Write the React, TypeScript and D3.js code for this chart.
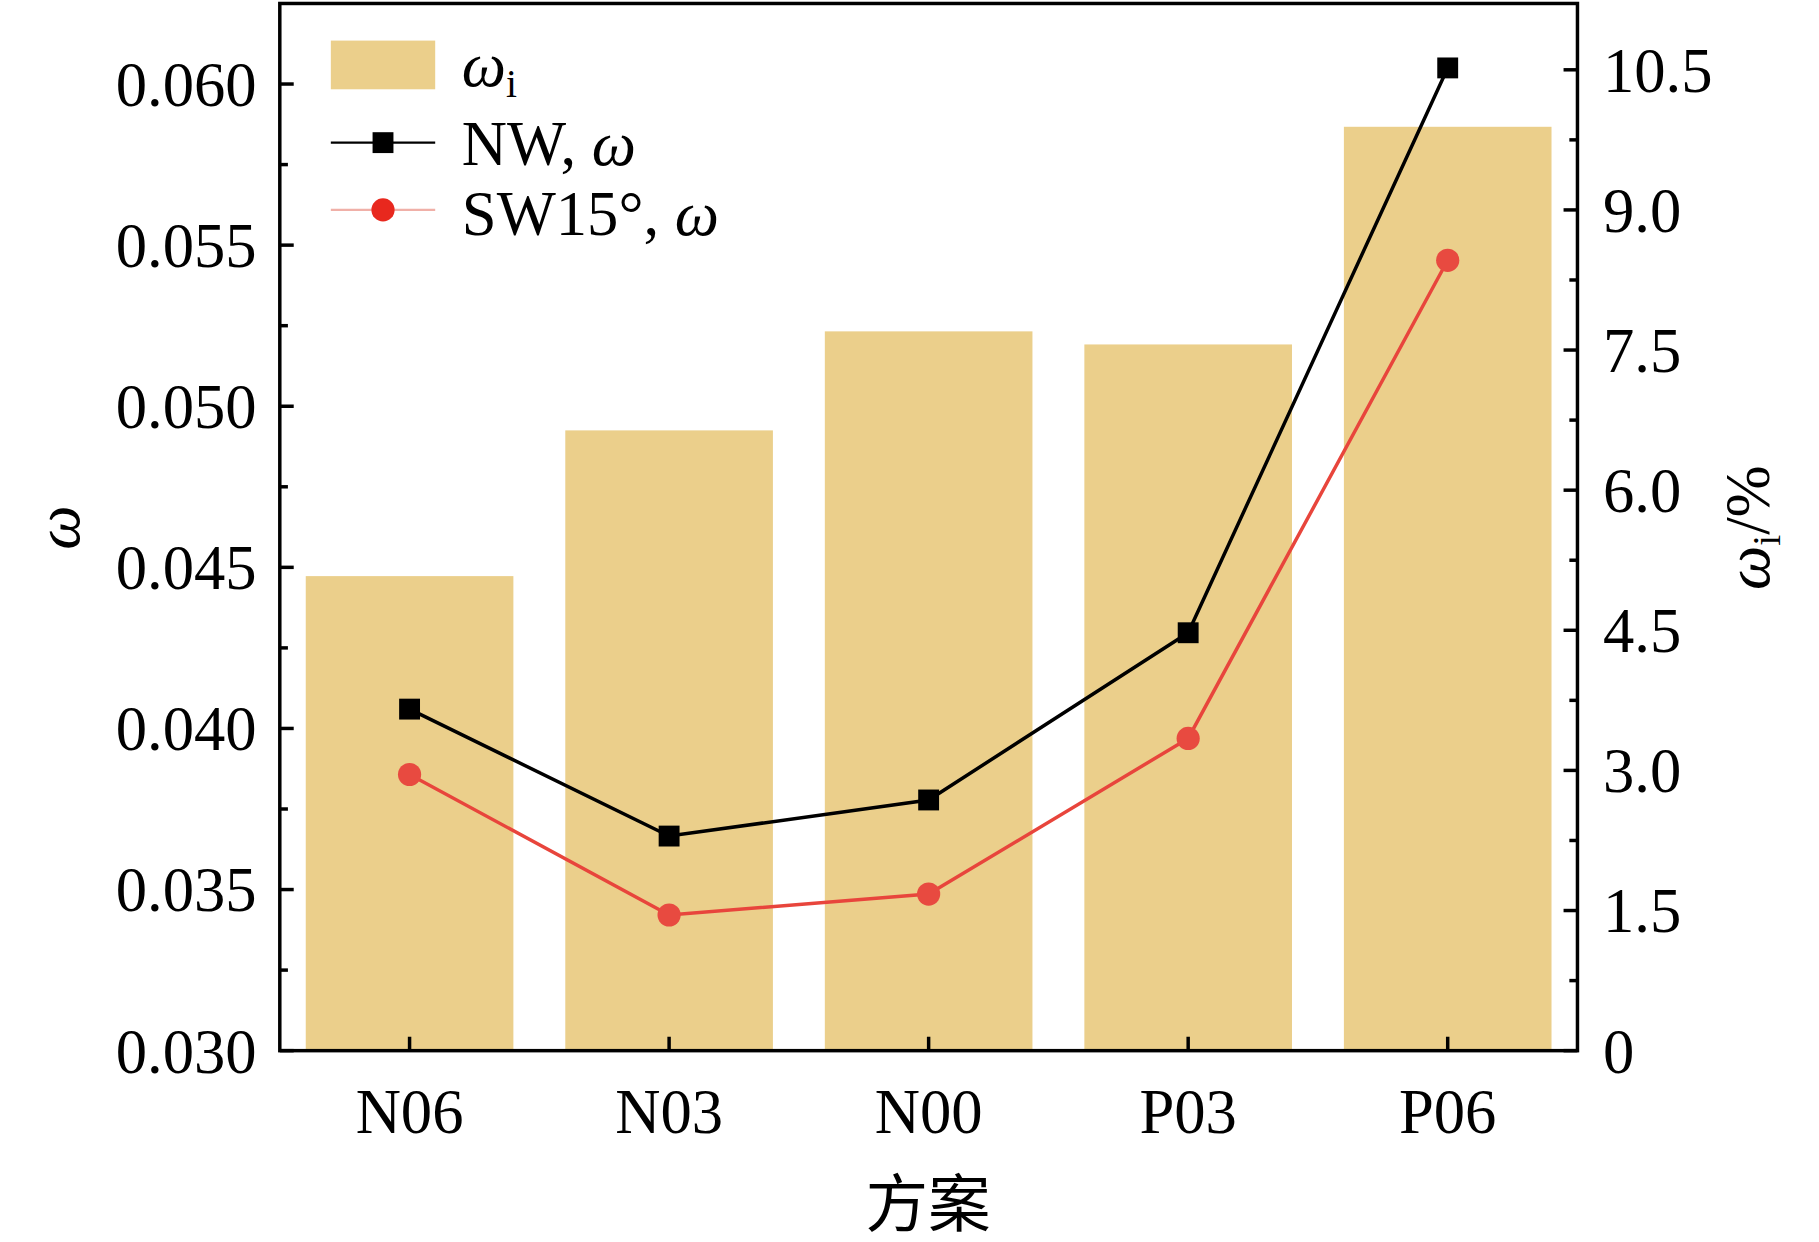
import React from "react";
import * as d3 from "d3";

const categories = ["N06", "N03", "N00", "P03", "P06"];
const omegaI = [5.08, 6.64, 7.7, 7.56, 9.89];
const nwOmega = [0.0406, 0.03666, 0.03778, 0.04297, 0.0605];
const swOmega = [0.03857, 0.03421, 0.03486, 0.03969, 0.05453];
const leftTicks = [0.03, 0.035, 0.04, 0.045, 0.05, 0.055, 0.06];
const rightTicks = [0, 1.5, 3, 4.5, 6, 7.5, 9, 10.5];

const W = 1568, H = 1071;
const L = 241, R = 1360, T = 3, B = 906;
const font = "Liberation Serif, Tinos, Times New Roman, Times, serif";

export default function App() {
  const x = d3.scaleBand<string>().domain(categories).range([L, R]).paddingInner(0.2).paddingOuter(0.1);
  const yL = d3.scaleLinear().domain([0.03, 0.0625]).range([B, T]);
  const yR = d3.scaleLinear().domain([0, 11.21]).range([B, T]);
  const cx = (c: string) => x(c)! + x.bandwidth() / 2;
  const line = d3.line<number>().x((_, i) => cx(categories[i])).y((v) => yL(v));
  const leftMinor = d3.range(0.0325, 0.0625, 0.005);
  const rightMinor = d3.range(0.75, 11.2, 1.5);
  const fs = 54;
  return (
    <svg width={1819} height={1242} viewBox={`0 0 ${W} ${H}`} style={{ position: "fixed", left: 0, top: 0, background: "#fff", fontFamily: font }}>
      {categories.map((c, i) => (
        <rect key={c} x={x(c)} y={yR(omegaI[i])} width={x.bandwidth()} height={B - yR(omegaI[i])} fill="#ebcf8b" />
      ))}
      <path d={line(nwOmega)!} fill="none" stroke="#000" strokeWidth={3} />
      <path d={line(swOmega)!} fill="none" stroke="#e8453c" strokeWidth={3} />
      {nwOmega.map((v, i) => (
        <rect key={i} x={cx(categories[i]) - 9} y={yL(v) - 9} width={18} height={18} fill="#000" />
      ))}
      {swOmega.map((v, i) => (
        <circle key={i} cx={cx(categories[i])} cy={yL(v)} r={10} fill="#e84a40" />
      ))}
      <rect x={L} y={T} width={R - L} height={B - T} fill="none" stroke="#000" strokeWidth={3} />
      {leftTicks.map((t) => (
        <g key={t}>
          <line x1={L} x2={L + 12} y1={yL(t)} y2={yL(t)} stroke="#000" strokeWidth={3} />
          <text x={L - 20} y={yL(t)} dy="0.35em" textAnchor="end" fontSize={fs}>{t.toFixed(3)}</text>
        </g>
      ))}
      {leftMinor.map((t) => (
        <line key={t} x1={L} x2={L + 7} y1={yL(t)} y2={yL(t)} stroke="#000" strokeWidth={3} />
      ))}
      {rightTicks.map((t) => (
        <g key={t}>
          <line x1={R} x2={R - 12} y1={yR(t)} y2={yR(t)} stroke="#000" strokeWidth={3} />
          <text x={R + 22} y={yR(t)} dy="0.35em" textAnchor="start" fontSize={fs}>{t === 0 ? "0" : t.toFixed(1)}</text>
        </g>
      ))}
      {rightMinor.map((t) => (
        <line key={t} x1={R} x2={R - 7} y1={yR(t)} y2={yR(t)} stroke="#000" strokeWidth={3} />
      ))}
      {categories.map((c) => (
        <g key={c}>
          <line x1={cx(c)} x2={cx(c)} y1={B} y2={B - 12} stroke="#000" strokeWidth={3} />
          <text x={cx(c)} y={977} textAnchor="middle" fontSize={fs}>{c}</text>
        </g>
      ))}
      <text x={800} y={1057} textAnchor="middle" fontSize={fs} style={{ fontFamily: "'Noto Sans CJK SC', sans-serif" }}>方案</text>
      <text transform="translate(68,455) rotate(-90)" textAnchor="middle" fontSize={fs} fontStyle="italic">ω</text>
      <text transform="translate(1525,455) rotate(-90)" textAnchor="middle" fontSize={fs}>
        <tspan fontStyle="italic">ω</tspan><tspan fontSize={34} dy={10}>i</tspan><tspan dy={-10}>/%</tspan>
      </text>
      <rect x={285} y={35} width={90} height={42} fill="#ebcf8b" />
      <text x={398} y={74} fontSize={fs}><tspan fontStyle="italic">ω</tspan><tspan fontSize={34} dy={10}>i</tspan></text>
      <line x1={285} x2={375} y1={123} y2={123} stroke="#000" strokeWidth={2} />
      <rect x={321} y={114} width={18} height={18} fill="#000" />
      <text x={398} y={142} fontSize={fs}>NW, <tspan fontStyle="italic">ω</tspan></text>
      <line x1={285} x2={375} y1={181} y2={181} stroke="#f0b0a8" strokeWidth={2} />
      <circle cx={330} cy={181} r={10} fill="#e8281e" />
      <text x={398} y={203} fontSize={fs}>SW15°, <tspan fontStyle="italic">ω</tspan></text>
    </svg>
  );
}
